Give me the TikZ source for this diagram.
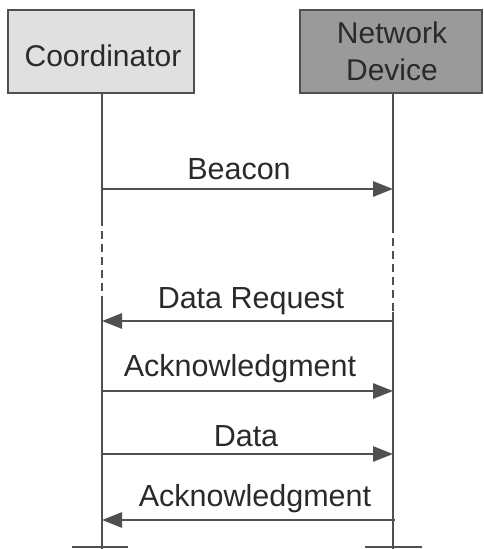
\documentclass[tikz,border=0pt]{standalone}
\usepackage{fontspec}
\setmainfont{Liberation Sans}
\usetikzlibrary{arrows.meta}
\definecolor{linegray}{HTML}{505050}
\definecolor{txtgray}{HTML}{2A2A2A}
\definecolor{lightbox}{HTML}{E0E0E0}
\definecolor{darkbox}{HTML}{9A9A9A}
\tikzset{
  actor/.style={draw=linegray, line width=2.2pt, inner sep=0pt},
  actortext/.style={text=txtgray, font=\fontsize{30}{37}\selectfont, align=center, inner sep=0pt},
  lifeline/.style={draw=linegray, line width=2.2pt},
  gapline/.style={draw=linegray, line width=2.2pt, dash pattern=on 8pt off 5pt},
  msg/.style={draw=linegray, line width=2.8pt, -{Triangle[length=20pt,width=15pt]}},
  msglabel/.style={text=txtgray, font=\fontsize{30.5}{32}\selectfont, inner sep=0pt}
}
\begin{document}
\begin{tikzpicture}[x=1pt,y=1pt]
\useasboundingbox (0,0) rectangle (484,-549);

% participants
\node[actor, fill=lightbox, minimum width=186pt, minimum height=83pt] (coord) at (101,-51.5) {};
\node[actor, fill=darkbox, minimum width=182pt, minimum height=83pt] (dev) at (391,-51.5) {};
\node[actortext] (coordtxt) at (103,-56) {Coordinator};
\node[actortext] (devtxt) at (392,-51) {Network\\Device};

% lifeline points
\coordinate (cA) at (102,-218);
\coordinate (cB) at (102,-300);
\coordinate (cEnd) at (102,-549);
\coordinate (dA) at (393,-225);
\coordinate (dB) at (393,-312);
\coordinate (dEnd) at (393,-549);

\draw[lifeline] (coord.south -| cA) -- (cA);
\draw[gapline] (cA) -- (cB);
\draw[lifeline] (cB) -- (cEnd);
\draw[lifeline] (dev.south -| dA) -- (dA);
\draw[gapline] (dA) -- (dB);
\draw[lifeline] (dB) -- (dEnd);

% bottom bars
\coordinate (cbl) at (72,-547);
\coordinate (cbr) at (128,-547);
\coordinate (dbl) at (365,-547);
\coordinate (dbr) at (422,-547);
\draw[lifeline] (cbl) -- (cbr);
\draw[lifeline] (dbl) -- (dbr);

% message anchors
\coordinate (c1) at (102,-189); \coordinate (d1) at (393,-189);
\coordinate (c2) at (102,-321); \coordinate (d2) at (394,-321);
\coordinate (c3) at (102,-391); \coordinate (d3) at (393,-391);
\coordinate (c4) at (102,-454); \coordinate (d4) at (393,-454);
\coordinate (c5) at (102,-520); \coordinate (d5) at (395,-520);

\draw[msg] (c1) -- (d1);
\draw[msg] (d2) -- (c2);
\draw[msg] (c3) -- (d3);
\draw[msg] (c4) -- (d4);
\draw[msg] (d5) -- (c5);

% message labels
\node[msglabel] (l1) at (239,-169) {Beacon};
\node[msglabel] (l2) at (251,-301) {Data Request};
\node[msglabel] (l3) at (240,-369) {Acknowledgment};
\node[msglabel] (l4) at (246,-436) {Data};
\node[msglabel] (l5) at (255,-499) {Acknowledgment};
\end{tikzpicture}
\end{document}
